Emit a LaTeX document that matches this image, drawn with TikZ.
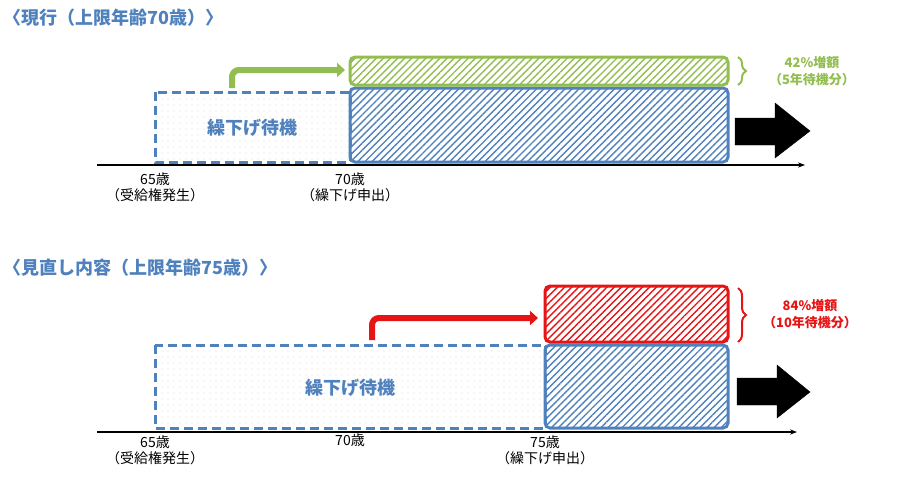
\documentclass[tikz,border=0pt]{standalone}
\usepackage{fontspec}
\setmainfont{Noto Sans CJK JP}
\usetikzlibrary{patterns,patterns.meta,arrows.meta,decorations.pathreplacing}
\definecolor{tblue}{RGB}{79,129,189}
\definecolor{tgreen}{RGB}{146,189,80}
\definecolor{tred}{RGB}{230,20,20}
\begin{document}
\begin{tikzpicture}[x=1pt,y=-1pt,
  title/.style={font=\bfseries\fontsize{18}{20}\selectfont,text=tblue,anchor=west},
  tick/.style={font=\fontsize{14}{16}\selectfont},
  wait/.style={draw=tblue,line width=3pt,dash pattern=on 9pt off 5pt,pattern={Dots[distance=6pt,radius=0.4pt]},pattern color=black!45},
  hatch/.style={draw=#1,line width=3pt,rounded corners=5pt,pattern={Lines[angle=45,distance=5pt,line width=1.4pt]},pattern color=#1},
  step/.style={draw=#1,line width=6pt,rounded corners=7pt,-{Triangle[length=8pt,width=14pt]}},
  gain/.style={font=\bfseries\fontsize{13}{17}\selectfont,text=#1,align=center},
  fat/.style={fill=black}]
\useasboundingbox (0,0) rectangle (900,477);
% --- current system
\node[title] (t1) at (0,18) {〈現行（上限年齢70歳）〉};
\draw[wait] (155,92) rectangle (350,162);
\draw[hatch=tblue] (350,88) rectangle (728,162);
\draw[hatch=tgreen] (350,57) rectangle (728,85);
\node[font=\bfseries\fontsize{18}{20}\selectfont,text=tblue] (w1) at (252,128) {繰下げ待機};
\coordinate (g1a) at (232,88);
\coordinate (g1b) at (345,70);
\draw[step=tgreen] (g1a) |- (g1b);
\coordinate (a1s) at (97,165);
\coordinate (a1e) at (805,165);
\draw[-{Stealth[length=7pt]},line width=1.2pt] (a1s) -- (a1e);
\draw[fat] (735,118) -- (775,118) -- (775,103) -- (810,131) -- (775,158) -- (775,145) -- (735,145) -- cycle;
\draw[decorate,decoration={brace,amplitude=8pt},draw=tgreen,line width=2pt] (738,57) -- (738,85);
\node[gain=tgreen] (p1) at (812,71) {42\%増額\\（5年待機分）};
\node[tick,align=center] (l65a) at (155,187) {65歳\\（受給権発生）};
\node[tick,align=center] (l70a) at (350,187) {70歳\\（繰下げ申出）};
% --- revision
\node[title] (t2) at (0,268) {〈見直し内容（上限年齢75歳）〉};
\draw[wait] (155,345) rectangle (545,428);
\draw[hatch=tblue] (545,345) rectangle (728,428);
\draw[hatch=tred] (545,286) rectangle (728,342);
\node[font=\bfseries\fontsize{18}{20}\selectfont,text=tblue] (w2) at (350,388) {繰下げ待機};
\coordinate (r2a) at (372,340);
\coordinate (r2b) at (538,318);
\draw[step=tred] (r2a) |- (r2b);
\coordinate (a2s) at (97,432);
\coordinate (a2e) at (797,432);
\draw[-{Stealth[length=7pt]},line width=1.2pt] (a2s) -- (a2e);
\draw[fat] (737,378) -- (777,378) -- (777,365) -- (810,392) -- (777,418) -- (777,405) -- (737,405) -- cycle;
\draw[decorate,decoration={brace,amplitude=8pt},draw=tred,line width=2pt] (738,288) -- (738,342);
\node[gain=tred] (p2) at (810,314) {84\%増額\\（10年待機分）};
\node[tick,align=center] (l65b) at (155,450) {65歳\\（受給権発生）};
\node[tick] (l70b) at (350,440) {70歳};
\node[tick,align=center] (l75b) at (545,450) {75歳\\（繰下げ申出）};
\end{tikzpicture}
\end{document}
